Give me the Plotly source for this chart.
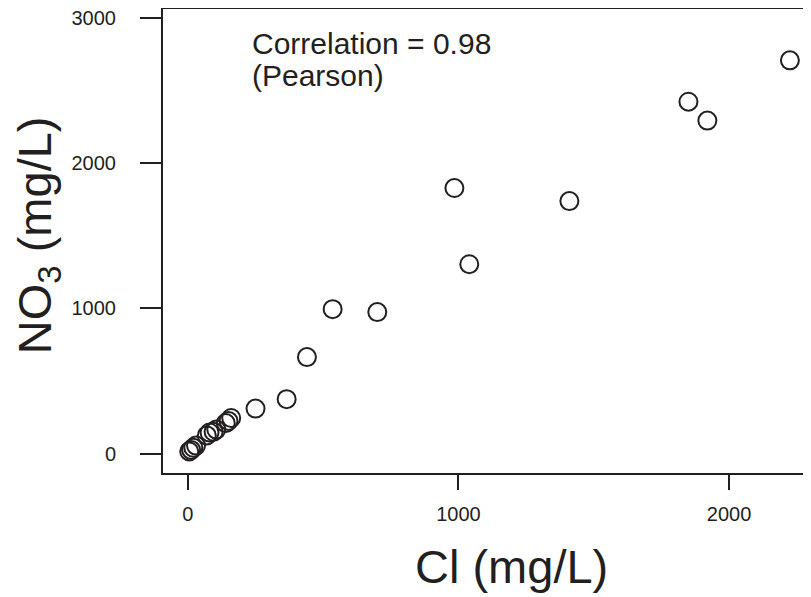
import plotly.graph_objects as go

# Data
cl_mg_l = [5, 12, 20, 30, 70, 80, 95, 105, 140, 150, 160, 250, 365, 440, 535, 700, 985, 1040, 1410, 1850, 1920, 2225]
no3_mg_l = [15, 25, 40, 55, 125, 145, 150, 165, 210, 225, 245, 310, 375, 665, 995, 975, 1830, 1305, 1740, 2425, 2295, 2710]
x_ticks = [0, 1000, 2000]
y_ticks = [0, 1000, 2000, 3000]

ink = "#231f20"
font_family = "Liberation Sans, Arial, Helvetica, sans-serif"

# The page body has an 8 px margin, so the figure is sized/offset to compensate.
OFF = 8
PLOT_L, PLOT_T, PLOT_B, PLOT_R = 163, 9, 472.7, 811
PW, PH = PLOT_R - PLOT_L, PLOT_B - PLOT_T


def px(xp):
    return (xp - PLOT_L) / PW


def py(yp):
    return 1 - (yp - PLOT_T) / PH


fig = go.Figure()
fig.add_trace(go.Scatter(
    x=cl_mg_l, y=no3_mg_l, mode="markers",
    marker=dict(symbol="circle-open", size=18, color=ink, line=dict(width=2, color=ink)),
    showlegend=False, hoverinfo="x+y",
))

fig.update_layout(
    width=811 - OFF, height=597 - OFF, autosize=False,
    margin=dict(l=PLOT_L - OFF, r=0, t=PLOT_T - OFF, b=597 - PLOT_B, pad=0),
    paper_bgcolor="white", plot_bgcolor="white",
    font=dict(family=font_family, color=ink),
    xaxis=dict(
        range=[-92, 2303], tickvals=x_ticks, ticktext=[str(v) for v in x_ticks],
        ticks="outside", ticklen=15, tickwidth=2, tickcolor=ink,
        showline=True, linewidth=2, linecolor=ink, mirror=True,
        showgrid=False, zeroline=False, tickfont=dict(size=20, color=ink),
        ticklabelstandoff=7, automargin=False, ticklabeloverflow="allow",
    ),
    yaxis=dict(
        range=[-134, 3064], tickvals=y_ticks, ticktext=[str(v) for v in y_ticks],
        ticks="outside", ticklen=21, tickwidth=2, tickcolor=ink,
        showline=True, linewidth=2, linecolor=ink, mirror=False,
        showgrid=False, zeroline=False, tickfont=dict(size=20, color=ink),
        ticklabelstandoff=20, automargin=False, ticklabeloverflow="allow",
    ),
    annotations=[
        dict(text="Correlation = 0.98", xref="paper", yref="paper",
             x=px(250), y=py(43), xanchor="left", yanchor="middle",
             showarrow=False, font=dict(size=30, color=ink)),
        dict(text="(Pearson)", xref="paper", yref="paper",
             x=px(250), y=py(75), xanchor="left", yanchor="middle",
             showarrow=False, font=dict(size=30, color=ink)),
        dict(text="Cl (mg/L)", xref="paper", yref="paper",
             x=px(511), y=py(566), xanchor="center", yanchor="middle",
             showarrow=False, font=dict(size=47, color=ink)),
        dict(text="NO<sub>3</sub> (mg/L)", xref="paper", yref="paper",
             x=px(38), y=py(235), xanchor="center", yanchor="middle",
             textangle=-90, showarrow=False, font=dict(size=47, color=ink)),
    ],
)

fig.write_html("out.html")
